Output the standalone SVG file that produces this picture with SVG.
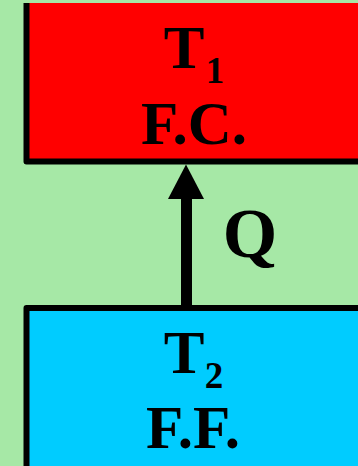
<svg xmlns="http://www.w3.org/2000/svg" width="358" height="466" viewBox="0 0 358 466">
  <style>
    .edge { fill: none; stroke: #000; stroke-width: 6; stroke-linejoin: round; }
    .lbl { font-family: "Liberation Serif", "Times New Roman", serif; font-weight: bold; fill: #000; text-anchor: middle; }
    .big { font-size: 61px; }
    .sub { font-size: 37px; }
  </style>
  <!-- background -->
  <rect x="0" y="0" width="358" height="466" fill="#A6E8A6"/>

  <!-- hot reservoir -->
  <g id="hot-reservoir">
    <rect x="26.5" y="3" width="340" height="158.5" fill="#FF0000"/>
    <path class="edge" d="M26.5,3 V161.5 H364"/>
    <text class="lbl big" x="184" y="68">T</text>
    <text class="lbl sub" x="215" y="83">1</text>
    <text class="lbl big" x="194" y="144">F.C.</text>
  </g>

  <!-- cold reservoir -->
  <g id="cold-reservoir">
    <rect x="26.5" y="308" width="340" height="170" fill="#00CCFF"/>
    <path class="edge" d="M26.5,472 V308 H364"/>
    <text class="lbl big" x="184" y="373">T</text>
    <text class="lbl sub" x="214" y="388">2</text>
    <text class="lbl big" x="193" y="448">F.F.</text>
  </g>

  <!-- heat flow from the cold to the hot reservoir -->
  <g id="connectors">
    <line x1="186.5" y1="306" x2="186.5" y2="198" stroke="#000" stroke-width="11"/>
    <path d="M168,199 L186,164.5 L204,199 Z" fill="#000"/>
    <text class="lbl" x="250" y="257" font-size="70">Q</text>
  </g>
</svg>
